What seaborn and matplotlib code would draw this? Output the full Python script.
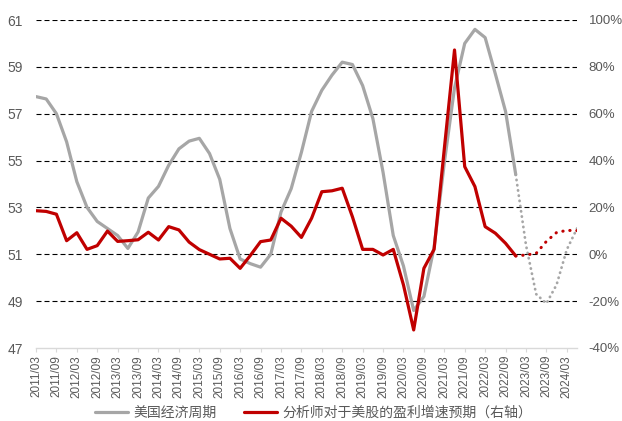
import matplotlib
matplotlib.use("Agg")
import matplotlib.pyplot as plt
import pandas as pd
import seaborn as sns

# 季度序列：2011Q1 (2011/03) 到 2024Q2 (2024/06)，每半年一个刻度
tick_labels = [
    "2011/03", "2011/09", "2012/03", "2012/09", "2013/03", "2013/09",
    "2014/03", "2014/09", "2015/03", "2015/09", "2016/03", "2016/09",
    "2017/03", "2017/09", "2018/03", "2018/09", "2019/03", "2019/09",
    "2020/03", "2020/09", "2021/03", "2021/09", "2022/03", "2022/09",
    "2023/03", "2023/09", "2024/03",
]

# 美国经济周期（左轴）
econ_cycle = [
    57.73, 57.63, 57.0, 55.8, 54.1, 53.0, 52.4, 52.1, 51.8, 51.25,
    51.95, 53.4, 53.9, 54.8, 55.5, 55.83, 55.95, 55.3, 54.2, 52.1,
    50.8, 50.6, 50.45, 51.0, 52.8, 53.8, 55.35, 57.1, 58.0, 58.65,
    59.2, 59.1, 58.2, 56.8, 54.5, 51.8, 50.5, 48.6, 49.2, 51.3,
    54.9, 58.1, 60.0, 60.6, 60.25, 58.7, 57.1, 54.4, 51.4, 49.3,
    48.9, 49.7, 51.2, 52.1,
]

# 分析师对于美股的盈利增速预期（右轴，%）
eps_growth = [
    18.6, 18.3, 17.1, 5.8, 9.2, 2.1, 3.7, 9.9, 5.5, 5.8,
    6.2, 9.4, 6.1, 11.8, 10.4, 5.2, 2.0, 0.0, -2.0, -1.7,
    -6.0, -0.5, 5.4, 6.1, 15.4, 12.0, 7.2, 15.4, 26.7, 27.1,
    28.2, 16.0, 2.1, 2.1, -0.3, 2.1, -13.1, -32.3, -6.0, 2.1,
    45.0, 87.2, 37.4, 28.9, 11.8, 9.0, 4.7, -0.7, -0.3, 0.4,
    5.5, 9.3, 10.2, 10.1,
]

# 最后一个实际值的位置（之后为预测，用点线）
last_actual = 47

GRAY = "#A6A6A6"
RED = "#C00000"
TEXT = "#595959"
NUM_FONT = ["Liberation Sans Narrow", "Liberation Sans", "DejaVu Sans"]

sns.set_theme(style="white")
plt.rcParams["font.family"] = ["Liberation Sans", "Noto Sans CJK SC", "DejaVu Sans"]

df = pd.DataFrame({
    "q": range(len(econ_cycle)),
    "econ": econ_cycle,
    "eps": eps_growth,
})
actual = df.iloc[: last_actual + 1]
forecast = df.iloc[last_actual:]

fig, ax = plt.subplots(figsize=(6.22, 4.21), dpi=100)
fig.subplots_adjust(left=36 / 622, right=577 / 622, top=1 - 20 / 421, bottom=1 - 348 / 421)
ax2 = ax.twinx()

sns.lineplot(data=actual, x="q", y="econ", ax=ax, color=GRAY, linewidth=2.3, legend=False)
sns.lineplot(data=forecast, x="q", y="econ", ax=ax, color=GRAY, linewidth=2.0,
             linestyle=(0, (0.1, 1.8)), dash_capstyle="round", legend=False)
sns.lineplot(data=actual, x="q", y="eps", ax=ax2, color=RED, linewidth=2.3, legend=False)
sns.lineplot(data=forecast, x="q", y="eps", ax=ax2, color=RED, linewidth=2.2,
             linestyle=(0, (0.1, 2.2)), dash_capstyle="round", legend=False)

# 坐标轴
ax.set_xlim(0, len(econ_cycle) - 1)
ax.set_ylim(47, 61)
ax.set_yticks(range(47, 62, 2))
ax2.set_ylim(-40, 100)
ax2.set_yticks(range(-40, 101, 20))
ax2.yaxis.set_major_formatter(plt.FuncFormatter(lambda v, p: f"{v:.0f}%"))

ax.set_xticks(range(0, 2 * len(tick_labels), 2))
ax.set_xticklabels(tick_labels, rotation=90, fontsize=8.5, color=TEXT, family=NUM_FONT)
ax.set_xlabel("")
ax.set_ylabel("")
ax2.set_ylabel("")

ax.tick_params(axis="x", length=3, width=0.8, color="#D9D9D9", pad=2, direction="out", bottom=True)
ax.tick_params(axis="y", length=0, pad=9.5, labelsize=10, labelcolor=TEXT)
ax2.tick_params(axis="y", length=0, pad=8.5, labelsize=9.5, labelcolor=TEXT)
for lab in ax.get_yticklabels() + ax2.get_yticklabels():
    lab.set_family(NUM_FONT)

for a in (ax, ax2):
    for side in ("top", "left", "right", "bottom"):
        a.spines[side].set_visible(False)
ax.spines["bottom"].set_visible(True)
ax.spines["bottom"].set_color("#D9D9D9")
ax.spines["bottom"].set_linewidth(1)

# 虚线网格
ax.yaxis.grid(True, color="black", linewidth=0.8, linestyle=(0, (4.5, 2.7)))
ax.xaxis.grid(False)
ax2.grid(False)
ax.set_axisbelow(True)
ax.get_ygridlines()[0].set_visible(False)

# 图例
handles = ax.get_lines()[:1] + ax2.get_lines()[:1]
labels = ["美国经济周期", "分析师对于美股的盈利增速预期（右轴）"]
fig.legend(handles, labels, loc="center", bbox_to_anchor=(0.504, 0.019), ncol=2,
           frameon=False, handlelength=2.4, handletextpad=0.35, columnspacing=2.0,
           prop={"family": ["Noto Sans CJK SC"], "size": 10}, labelcolor=TEXT)

fig.savefig("out.png", dpi=100)
plt.close(fig)
